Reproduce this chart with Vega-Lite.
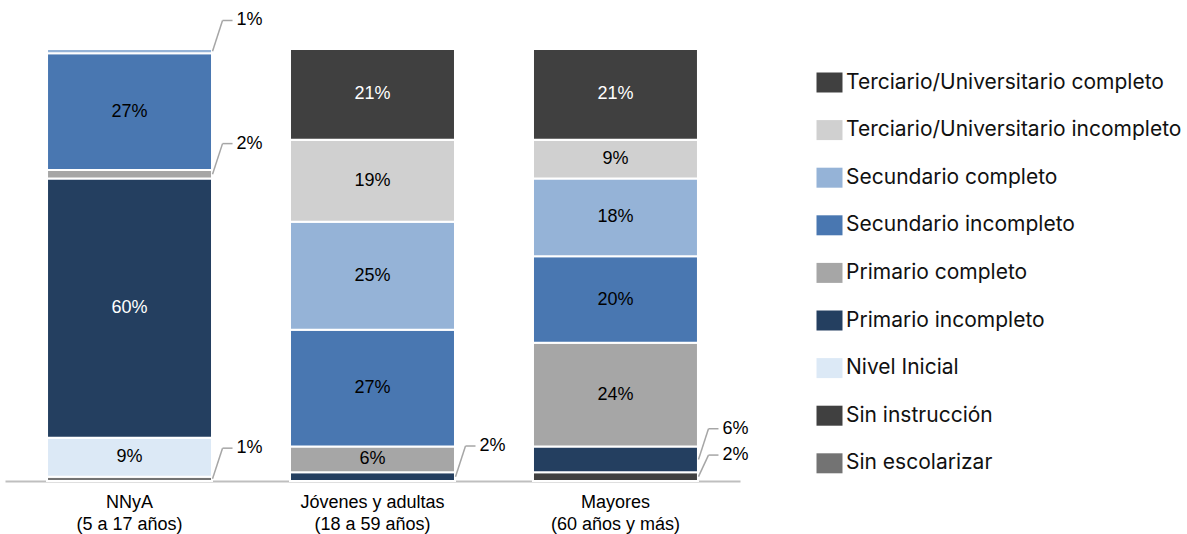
{
  "$schema": "https://vega.github.io/schema/vega-lite/v6.json",
  "width": 735,
  "height": 432,
  "autosize": {"type": "none"},
  "padding": {"left": 5, "top": 49, "right": 447, "bottom": 53},
  "config": {"view": {"stroke": null}, "font": "Liberation Sans"},
  "data": {
    "values": [
      {"grupo": "NNyA|(5 a 17 años)", "nivel": "Sin escolarizar", "orden": 1, "pct": 0.01},
      {"grupo": "NNyA|(5 a 17 años)", "nivel": "Nivel Inicial", "orden": 3, "pct": 0.09},
      {"grupo": "NNyA|(5 a 17 años)", "nivel": "Primario incompleto", "orden": 4, "pct": 0.60},
      {"grupo": "NNyA|(5 a 17 años)", "nivel": "Primario completo", "orden": 5, "pct": 0.02},
      {"grupo": "NNyA|(5 a 17 años)", "nivel": "Secundario incompleto", "orden": 6, "pct": 0.27},
      {"grupo": "NNyA|(5 a 17 años)", "nivel": "Secundario completo", "orden": 7, "pct": 0.01},
      {"grupo": "Jóvenes y adultas|(18 a 59 años)", "nivel": "Primario incompleto", "orden": 4, "pct": 0.02},
      {"grupo": "Jóvenes y adultas|(18 a 59 años)", "nivel": "Primario completo", "orden": 5, "pct": 0.06},
      {"grupo": "Jóvenes y adultas|(18 a 59 años)", "nivel": "Secundario incompleto", "orden": 6, "pct": 0.27},
      {"grupo": "Jóvenes y adultas|(18 a 59 años)", "nivel": "Secundario completo", "orden": 7, "pct": 0.25},
      {"grupo": "Jóvenes y adultas|(18 a 59 años)", "nivel": "Terciario/Universitario incompleto", "orden": 8, "pct": 0.19},
      {"grupo": "Jóvenes y adultas|(18 a 59 años)", "nivel": "Terciario/Universitario completo", "orden": 9, "pct": 0.21},
      {"grupo": "Mayores|(60 años y más)", "nivel": "Sin instrucción", "orden": 2, "pct": 0.02},
      {"grupo": "Mayores|(60 años y más)", "nivel": "Primario incompleto", "orden": 4, "pct": 0.06},
      {"grupo": "Mayores|(60 años y más)", "nivel": "Primario completo", "orden": 5, "pct": 0.24},
      {"grupo": "Mayores|(60 años y más)", "nivel": "Secundario incompleto", "orden": 6, "pct": 0.20},
      {"grupo": "Mayores|(60 años y más)", "nivel": "Secundario completo", "orden": 7, "pct": 0.18},
      {"grupo": "Mayores|(60 años y más)", "nivel": "Terciario/Universitario incompleto", "orden": 8, "pct": 0.09},
      {"grupo": "Mayores|(60 años y más)", "nivel": "Terciario/Universitario completo", "orden": 9, "pct": 0.21}
    ]
  },
  "transform": [
    {"stack": "pct", "groupby": ["grupo"], "sort": [{"field": "orden", "order": "ascending"}], "as": ["y0", "y1"]},
    {"calculate": "(datum.y0 + datum.y1) / 2", "as": "ymid"},
    {"calculate": "datum.ymid + (datum.nivel === 'Sin instrucción' ? 0.05 : 0.071)", "as": "ylab"},
    {"calculate": "datum.pct < 0.05 || (datum.grupo === 'Mayores|(60 años y más)' && datum.nivel === 'Primario incompleto')", "as": "externa"}
  ],
  "encoding": {
    "x": {
      "field": "grupo",
      "type": "nominal",
      "sort": null,
      "scale": {"paddingInner": 0.321, "paddingOuter": 0.173},
      "axis": {
        "title": null,
        "labelAngle": 0,
        "labelExpr": "split(datum.label, '|')",
        "labelFont": "Liberation Sans",
        "labelFontSize": 18,
        "labelColor": "#000000",
        "labelLineHeight": 22,
        "labelPadding": 12,
        "ticks": false,
        "domainColor": "#BFBFBF",
        "domainWidth": 2
      }
    }
  },
  "layer": [
    {
      "mark": {"type": "bar", "stroke": "#FFFFFF", "strokeWidth": 2},
      "encoding": {
        "y": {"field": "y1", "type": "quantitative", "scale": {"domain": [0, 1]}, "axis": null},
        "y2": {"field": "y0"},
        "color": {
          "field": "nivel",
          "type": "nominal",
          "scale": {
            "domain": ["Terciario/Universitario completo", "Terciario/Universitario incompleto", "Secundario completo", "Secundario incompleto", "Primario completo", "Primario incompleto", "Nivel Inicial", "Sin instrucción", "Sin escolarizar"],
            "range": ["#404040", "#D0D0D0", "#95B3D7", "#4977B1", "#A6A6A6", "#243F60", "#DCE9F6", "#404040", "#737373"]
          },
          "legend": {
            "title": null,
            "orient": "none",
            "legendX": 814,
            "legendY": 23,
            "padding": 0,
            "symbolType": "M-1.3,-1L1.3,-1L1.3,1L-1.3,1Z",
            "symbolSize": 400,
            "symbolStrokeWidth": 0,
            "labelFont": "Inter",
            "labelFontSize": 21,
            "labelColor": "#111111",
            "labelOffset": 6,
            "rowPadding": 25.6,
            "labelLimit": 400
          }
        }
      }
    },
    {
      "transform": [{"filter": "!datum.externa"}],
      "mark": {"type": "text", "fontSize": 18, "font": "Liberation Sans", "baseline": "middle"},
      "encoding": {
        "y": {"field": "ymid", "type": "quantitative"},
        "text": {"field": "pct", "type": "quantitative", "format": ".0%"},
        "color": {
          "condition": {"test": "datum.nivel === 'Terciario/Universitario completo' || datum.nivel === 'Primario incompleto' || datum.nivel === 'Sin instrucción'", "value": "#FFFFFF"},
          "value": "#000000"
        }
      }
    },
    {
      "transform": [{"filter": "datum.externa"}],
      "mark": {"type": "rule", "color": "#A6A6A6", "strokeWidth": 1.5, "xOffset": 83, "x2Offset": 93},
      "encoding": {
        "y": {"field": "ymid", "type": "quantitative"},
        "x2": {"field": "grupo"},
        "y2": {"field": "ylab"}
      }
    },
    {
      "transform": [{"filter": "datum.externa"}],
      "mark": {"type": "rule", "color": "#A6A6A6", "strokeWidth": 1.5, "xOffset": 93, "x2Offset": 103},
      "encoding": {
        "y": {"field": "ylab", "type": "quantitative"},
        "x2": {"field": "grupo"}
      }
    },
    {
      "transform": [{"filter": "datum.externa"}],
      "mark": {"type": "text", "fontSize": 18, "font": "Liberation Sans", "align": "left", "baseline": "middle", "dx": 107, "color": "#000000"},
      "encoding": {
        "y": {"field": "ylab", "type": "quantitative"},
        "text": {"field": "pct", "type": "quantitative", "format": ".0%"}
      }
    }
  ]
}
